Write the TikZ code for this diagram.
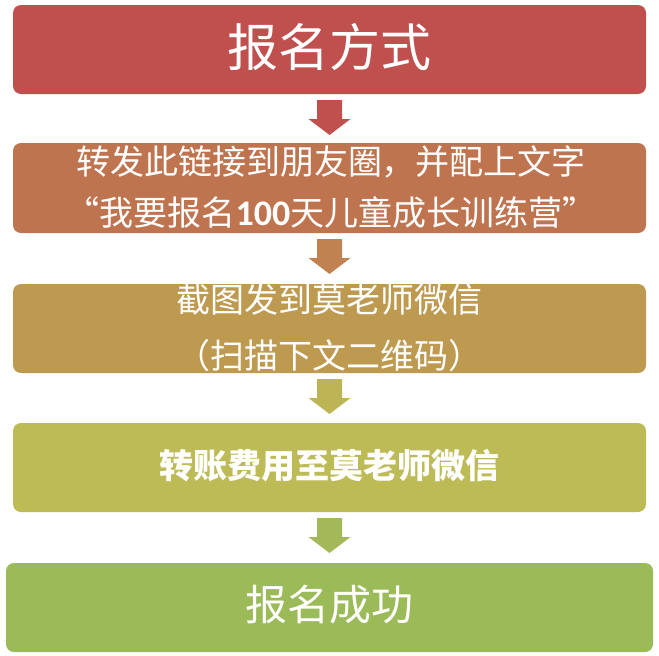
\documentclass[tikz,border=0pt]{standalone}
\usepackage{fontspec}
\setmainfont{Noto Sans CJK SC}
\newfontfamily\latinb{Carlito}
\usetikzlibrary{calc}
\definecolor{cA}{HTML}{C0504D}
\definecolor{cB}{HTML}{BF7450}
\definecolor{cC}{HTML}{BE9A51}
\definecolor{cD}{HTML}{BDBB56}
\definecolor{cE}{HTML}{9BBB59}
\definecolor{aB}{HTML}{C08251}
\definecolor{aC}{HTML}{BDB455}
\definecolor{aD}{HTML}{A3B858}
\tikzset{
  stepbox/.style={rounded corners=8pt, inner sep=0pt},
  lbl/.style={text=white, inner sep=0pt, anchor=center},
}
\newcommand\flowarrow[2]{%
  \fill[#1] ($(#2)+(-12.5,0)$) -- ++(25,0) -- ++(0,19) -- ++(8.5,0) -- ++(-21,16) -- ++(-21,-16) -- ++(8.5,0) -- cycle;}
\begin{document}
\begin{tikzpicture}[x=1pt,y=-1pt]
\useasboundingbox (0,0) rectangle (659,656);
% boxes
\fill[cA, stepbox] (13,5) rectangle (646,94);
\coordinate (b1s) at (329.5,94);
\fill[cB, stepbox] (13,143) rectangle (646,233);
\coordinate (b2s) at (329.5,233);
\fill[cC, stepbox] (13,284) rectangle (646,373);
\coordinate (b3s) at (329.5,373);
\fill[cD, stepbox] (13,423) rectangle (646,512);
\coordinate (b4s) at (329.5,512);
\fill[cE, stepbox] (6,563) rectangle (653,652);
% arrows
\coordinate (a1) at ($(b1s)+(0,6)$);
\coordinate (a2) at ($(b2s)+(0,6)$);
\coordinate (a3) at ($(b3s)+(0,6)$);
\coordinate (a4) at ($(b4s)+(0,6)$);
\flowarrow{cA}{a1}
\flowarrow{aB}{a2}
\flowarrow{aC}{a3}
\flowarrow{aD}{a4}
% labels
\node[lbl, font=\fontsize{51}{51}\selectfont] (t1) at (329.5,47) {报名方式};
\node[lbl, font=\fontsize{34}{34}\selectfont] (t2a) at (331,162) {转发此链接到朋友圈，并配上文字};
\node[lbl, font=\fontsize{34}{34}\selectfont] (t2b) at (331,213) {“我要报名{\latinb\bfseries\fontsize{36}{36}\selectfont 100}天儿童成长训练营”};
\node[lbl, font=\fontsize{34}{34}\selectfont] (t3a) at (329.5,300) {截图发到莫老师微信};
\node[lbl, font=\fontsize{34}{34}\selectfont] (t3b) at (329.5,356) {（扫描下文二维码）};
\node[lbl, font=\bfseries\fontsize{34}{34}\selectfont] (t4) at (329.5,466) {转账费用至莫老师微信};
\node[lbl, font=\fontsize{42}{42}\selectfont] (t5) at (329.5,605) {报名成功};
\end{tikzpicture}
\end{document}
